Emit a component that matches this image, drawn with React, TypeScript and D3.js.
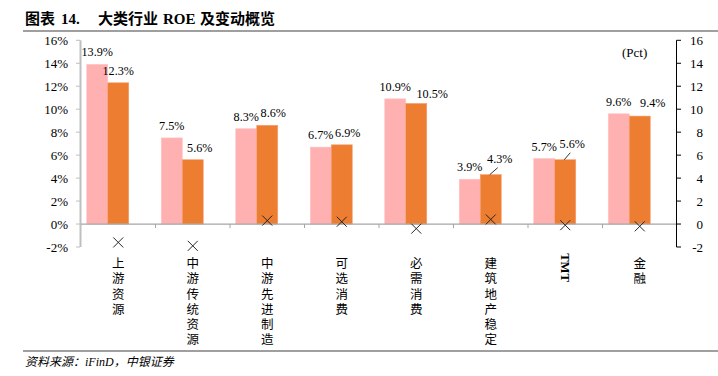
import React from "react";
import * as d3 from "d3";

const categories = ["上游资源", "中游传统资源", "中游先进制造", "可选消费", "必需消费", "建筑地产稳定", "TMT", "金融"];
const roePrev = [13.9, 7.5, 8.3, 6.7, 10.9, 3.9, 5.7, 9.6];
const roeCurr = [12.3, 5.6, 8.6, 6.9, 10.5, 4.3, 5.6, 9.4];
const change = [-1.6, -1.9, 0.3, 0.2, -0.4, 0.4, -0.1, -0.2];
const leftTicks = [-2, 0, 2, 4, 6, 8, 10, 12, 14, 16];
const rightTicks = [-2, 0, 2, 4, 6, 8, 10, 12, 14, 16];
// label nudges (dx, dy) for the current-year labels
const currLabelNudge = [[0, 0], [7, 0], [6, 0], [6, 0], [16, 3], [9, -4], [7, -3.5], [13, -1]];
const currLeader = [false, false, false, false, false, true, true, false];

const W = 718, H = 376;
const serif = "'Liberation Serif', 'Times New Roman', 'Noto Sans CJK SC', serif";
const PINK = "#FFB0B0";
const ORANGE = "#ED7D31";

export default function App() {
  const x = d3.scaleBand<string>().domain(categories).range([81, 677]).paddingInner(0).paddingOuter(0);
  const sub = d3.scaleBand<string>().domain(["prev", "curr", "blank"]).range([0, x.bandwidth()]).paddingInner(0).paddingOuter(0.274);
  const yL = d3.scaleLinear().domain([-2, 16]).range([247, 40.3]);
  const yR = d3.scaleLinear().domain([-2, 16]).range([247, 40.3]);
  const y0 = yL(0);
  const bw = sub.bandwidth();

  const titleParts: [string, number][] = [["图表", 25], ["14.", 61], ["大类行业", 98], ["ROE", 163], ["及变动概览", 200]];

  return (
    <svg width={W} height={H} style={{ position: "absolute", left: 0, top: 0, background: "#fff" }} fontFamily={serif}>
      {/* title */}
      {titleParts.map(([t, tx]) => (
        <text key={t} x={tx} y={23.5} fontSize={15} fontWeight="bold" fill="#000" fontFamily={serif}>{t}</text>
      ))}
      <line x1={23} x2={718} y1={31} y2={31} stroke="#7f7f7f" strokeWidth={1.6} />

      {/* left axis */}
      <line x1={80.5} x2={80.5} y1={yL(16)} y2={yL(-2)} stroke="#bfbfbf" strokeWidth={2} />
      {leftTicks.map((t) => (
        <g key={"l" + t}>
          <line x1={76} x2={80} y1={yL(t)} y2={yL(t)} stroke="#bfbfbf" strokeWidth={1} />
          <text x={68} y={yL(t)} dy="0.35em" textAnchor="end" fontSize={13} fill="#000">{t}%</text>
        </g>
      ))}

      {/* right axis */}
      <line x1={676.5} x2={676.5} y1={yR(16)} y2={yR(-2)} stroke="#000" strokeWidth={1} />
      {rightTicks.map((t) => (
        <g key={"r" + t}>
          <line x1={676.5} x2={681} y1={yR(t)} y2={yR(t)} stroke="#000" strokeWidth={1} />
          <text x={703} y={yR(t)} dy="0.35em" textAnchor="end" fontSize={13} fill="#000">{t}</text>
        </g>
      ))}
      <text x={622} y={52} dy="0.35em" fontSize={13} fill="#000">(Pct)</text>

      {/* bars */}
      {categories.map((c, i) => {
        const gx = x(c) as number;
        const px = gx + (sub("prev") as number);
        const cx = gx + (sub("curr") as number);
        const [ndx, ndy] = currLabelNudge[i];
        const currTop = yL(roeCurr[i]);
        const prevTop = yL(roePrev[i]);
        return (
          <g key={c}>
            <rect x={px} y={prevTop} width={bw} height={y0 - prevTop} fill={PINK} stroke="#ffc4c4" strokeWidth={0.6} />
            <rect x={cx} y={currTop} width={bw} height={y0 - currTop} fill={ORANGE} stroke="#f4a070" strokeWidth={0.6} />
            <text x={px + bw / 2} y={prevTop - 8} textAnchor="middle" fontSize={12.2} fill="#000">{roePrev[i].toFixed(1)}%</text>
            <text x={cx + bw / 2 + ndx} y={currTop - 8 + ndy} textAnchor="middle" fontSize={12.2} fill="#000">{roeCurr[i].toFixed(1)}%</text>
            {currLeader[i] && (
              <line x1={cx + bw / 2 - 1} y1={currTop} x2={cx + bw / 2 + ndx - 2} y2={currTop - 7} stroke="#000" strokeWidth={0.8} />
            )}
          </g>
        );
      })}

      {/* zero line and category ticks */}
      <line x1={81} x2={676} y1={y0} y2={y0} stroke="#a6a6a6" strokeWidth={1.2} />
      {categories.map((c, i) => (
        i > 0 ? <line key={"t" + c} x1={x(c) as number} x2={x(c) as number} y1={y0} y2={y0 + 4} stroke="#a6a6a6" strokeWidth={1} /> : null
      ))}

      {/* change markers */}
      {categories.map((c, i) => {
        const mx = (x(c) as number) + x.bandwidth() / 2;
        const my = yR(change[i]);
        const s = 5;
        return (
          <path key={"m" + c} d={`M${mx - s},${my - s}L${mx + s},${my + s}M${mx - s},${my + s}L${mx + s},${my - s}`} stroke="#262626" strokeWidth={1} fill="none" />
        );
      })}

      {/* category labels */}
      {categories.map((c) => {
        const cx = (x(c) as number) + x.bandwidth() / 2;
        if (c === "TMT") {
          return (
            <text key={"c" + c} transform={`translate(${cx},${267.5}) rotate(90)`} textAnchor="middle" dy="0.35em" fontSize={12.5} fontWeight="bold" fill="#000">{c}</text>
          );
        }
        return (
          <g key={"c" + c}>
            {Array.from(c).map((ch, k) => (
              <text key={k} x={cx} y={263.5 + k * 15.2} dy="0.38em" textAnchor="middle" fontSize={12.5} fill="#000">{ch}</text>
            ))}
          </g>
        );
      })}

      {/* source */}
      <line x1={23} x2={718} y1={351} y2={351} stroke="#7f7f7f" strokeWidth={1.6} />
      <text x={25} y={366} fontSize={12} fontStyle="italic" fill="#000">资料来源：iFinD，中银证券</text>
    </svg>
  );
}
